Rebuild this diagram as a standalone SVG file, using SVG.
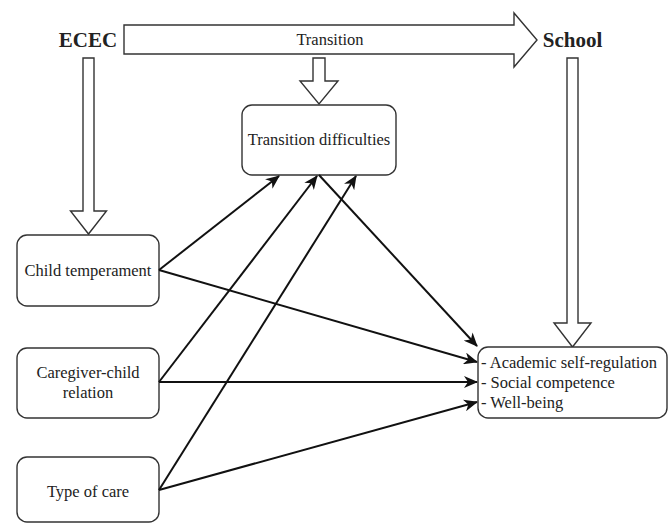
<svg xmlns="http://www.w3.org/2000/svg" width="670" height="523" viewBox="0 0 670 523">
<style>
.box{fill:#fff;stroke:#333;stroke-width:1.4}
.blk{fill:#fff;stroke:#333;stroke-width:1.4;stroke-linejoin:miter}
.t{font-family:"Liberation Serif","Times New Roman",serif;font-size:16.5px;fill:#222}
.h{font-family:"Liberation Serif","Times New Roman",serif;font-size:21px;font-weight:bold;fill:#222}
.c{fill:none;stroke:#111;stroke-width:2}
</style>
<defs>
<marker id="ah" markerUnits="userSpaceOnUse" markerWidth="14" markerHeight="12" viewBox="0 0 14 12" refX="13" refY="6" orient="auto">
<path d="M0,0 L14,6 L0,12 L4,6 z" fill="#111"/>
</marker>
</defs>
<rect width="670" height="523" fill="#fff"/>
<g id="transition-arrow">
<polygon class="blk" points="124,25 514,25 514,13 537,40 514,67 514,54 124,54"/>
<text class="t" x="330" y="45" text-anchor="middle" font-size="16">Transition</text>
</g>
<g id="ecec">
<text class="h" x="88" y="47" text-anchor="middle">ECEC</text>
<polygon class="blk" points="83,58 94,58 94,211 106.5,211 88.5,234 70.5,211 83,211"/>
</g>
<g id="school">
<text class="h" x="572.5" y="47" text-anchor="middle">School</text>
<polygon class="blk" points="567,58 578,58 578,323 591,323 572.5,347 554,323 567,323"/>
</g>
<g id="transition-down">
<polygon class="blk" points="313,58 325,58 325,81 338,81 319,104 300,81 313,81"/>
</g>
<g id="transition-difficulties">
<rect class="box" x="242" y="105" width="154" height="70" rx="10"/>
<text class="t" x="319" y="145" text-anchor="middle">Transition difficulties</text>
</g>
<g id="child-temperament">
<rect class="box" x="17" y="235" width="142" height="71" rx="10"/>
<text class="t" x="88" y="276" text-anchor="middle">Child temperament</text>
</g>
<g id="caregiver-child-relation">
<rect class="box" x="17" y="348" width="142" height="70" rx="10"/>
<text class="t" x="88" y="378" text-anchor="middle">Caregiver-child</text>
<text class="t" x="88" y="398" text-anchor="middle">relation</text>
</g>
<g id="type-of-care">
<rect class="box" x="17" y="457" width="142" height="65" rx="10"/>
<text class="t" x="88" y="497" text-anchor="middle">Type of care</text>
</g>
<g id="outcomes">
<rect class="box" x="478" y="347" width="189" height="71" rx="10"/>
<text class="t" x="481" y="368">- Academic self-regulation</text>
<text class="t" x="481" y="388">- Social competence</text>
<text class="t" x="481" y="408">- Well-being</text>
</g>
<g id="connectors">
<line class="c" x1="159" y1="270" x2="279" y2="176" marker-end="url(#ah)"/>
<line class="c" x1="159" y1="270" x2="477" y2="362" marker-end="url(#ah)"/>
<line class="c" x1="159" y1="382" x2="317" y2="176" marker-end="url(#ah)"/>
<line class="c" x1="159" y1="382" x2="477" y2="382" marker-end="url(#ah)"/>
<line class="c" x1="159" y1="490" x2="356" y2="176" marker-end="url(#ah)"/>
<line class="c" x1="159" y1="490" x2="477" y2="402" marker-end="url(#ah)"/>
<line class="c" x1="319" y1="175" x2="477" y2="346" marker-end="url(#ah)"/>
</g>
</svg>
